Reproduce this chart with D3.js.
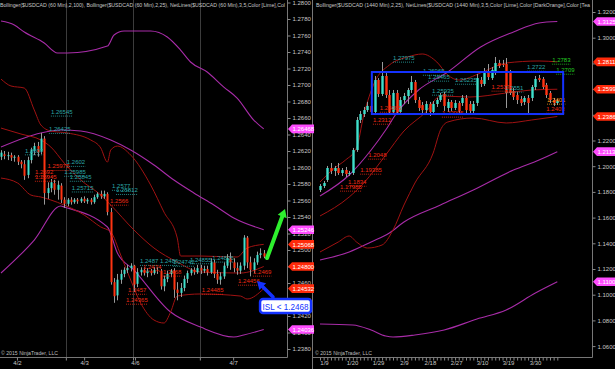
<!DOCTYPE html>
<html><head><meta charset="utf-8">
<script src="https://cdn.jsdelivr.net/npm/d3@7"></script>
<style>html,body{margin:0;padding:0;background:#000;overflow:hidden}text{font-family:"Liberation Sans",Arial,sans-serif}</style>
</head><body>
<svg id="c" width="615" height="369"></svg>
<script>
// ---------- LEFT PANEL (60 min) ----------
const leftOpen = [1.2613,1.2616,1.2614,1.2615,1.2612,1.2613,1.2607,1.2604,1.2591,1.2609,1.2620,1.2626,1.2619,1.2635,1.2569,1.2575,1.2581,1.2573,1.2578,1.2561,1.2556,1.2561,1.2558,1.2561,1.2559,1.2562,1.2559,1.2561,1.2558,1.2564,1.2568,1.2565,1.2568,1.2546,1.2461,1.2445,1.2464,1.2471,1.2476,1.2478,1.2481,1.2459,1.2473,1.2476,1.2472,1.2475,1.2472,1.2476,1.2475,1.2456,1.2465,1.2471,1.2475,1.2452,1.2448,1.2454,1.2465,1.2472,1.2476,1.2473,1.2478,1.2475,1.2477,1.2473,1.2485,1.2471,1.2464,1.2468,1.2481,1.2490,1.2485,1.2478,1.2475,1.2481,1.2515,1.2485,1.2476,1.2485,1.2494,1.2496];
const leftClose = [1.2618,1.2614,1.2615,1.2612,1.2613,1.2607,1.2604,1.2590,1.2609,1.2621,1.2626,1.2618,1.2635,1.2569,1.2575,1.2582,1.2573,1.2579,1.2561,1.2556,1.2561,1.2558,1.2561,1.2559,1.2562,1.2559,1.2561,1.2558,1.2564,1.2568,1.2565,1.2568,1.2546,1.2461,1.2444,1.2464,1.2471,1.2476,1.2478,1.2481,1.2458,1.2473,1.2476,1.2472,1.2475,1.2472,1.2476,1.2475,1.2456,1.2465,1.2471,1.2475,1.2452,1.2448,1.2454,1.2465,1.2472,1.2476,1.2473,1.2478,1.2475,1.2477,1.2473,1.2485,1.2471,1.2464,1.2468,1.2481,1.2490,1.2485,1.2478,1.2475,1.2481,1.2515,1.2485,1.2476,1.2485,1.2494,1.2496,1.2492];
const leftHigh = [1.2621,1.2620,1.2619,1.2618,1.2615,1.2615,1.2609,1.2609,1.2613,1.2624,1.2630,1.2631,1.2642,1.2638,1.2582,1.2586,1.2585,1.2584,1.2581,1.2564,1.2563,1.2564,1.2563,1.2563,1.2564,1.2565,1.2563,1.2563,1.2567,1.2570,1.2572,1.2572,1.2570,1.2551,1.2466,1.2471,1.2476,1.2479,1.2482,1.2484,1.2482,1.2478,1.2479,1.2479,1.2478,1.2477,1.2479,1.2479,1.2477,1.2469,1.2475,1.2477,1.2478,1.2461,1.2460,1.2469,1.2475,1.2478,1.2479,1.2482,1.2482,1.2481,1.2481,1.2490,1.2488,1.2476,1.2473,1.2485,1.2495,1.2497,1.2490,1.2485,1.2485,1.2518,1.2517,1.2492,1.2490,1.2498,1.2502,1.2500];
const leftLow = [1.2609,1.2610,1.2609,1.2608,1.2607,1.2603,1.2599,1.2585,1.2587,1.2605,1.2615,1.2613,1.2616,1.2555,1.2562,1.2570,1.2567,1.2561,1.2557,1.2551,1.2553,1.2555,1.2556,1.2556,1.2557,1.2557,1.2556,1.2555,1.2556,1.2562,1.2562,1.2562,1.2542,1.2458,1.2436,1.2439,1.2459,1.2467,1.2472,1.2474,1.2449,1.2455,1.2469,1.2469,1.2467,1.2469,1.2470,1.2471,1.2452,1.2450,1.2461,1.2467,1.2442,1.2439,1.2443,1.2450,1.2460,1.2469,1.2470,1.2471,1.2471,1.2472,1.2469,1.2471,1.2466,1.2459,1.2458,1.2465,1.2478,1.2476,1.2473,1.2470,1.2471,1.2476,1.2478,1.2468,1.2472,1.2482,1.2490,1.2490];

// Bollinger(2,100) - magenta  [barIndex, price]
const leftBB100Upper = [[0,1.27775],[4,1.27727],[7,1.27642],[13,1.27509],[17,1.27388],[20,1.27388],[32,1.27472],[34,1.27606],[37,1.27654],[45,1.27654],[50,1.27582],[54,1.27424],[57,1.27279],[62,1.27157],[67,1.26975],[71,1.26842],[76,1.26575],[79,1.26468]];
const leftBB100Mid = [[0,1.26248],[12,1.26418],[18,1.26454],[24,1.26442],[33,1.26333],[39,1.26212],[46,1.2603],[52,1.25848],[58,1.25691],[64,1.25545],[70,1.25388],[79,1.25246]];
const leftBB100Lower = [[0,1.24721],[10,1.25121],[18,1.25533],[19,1.25521],[32,1.25279],[35,1.24963],[40,1.24757],[51,1.24248],[60,1.24066],[70,1.23945],[73,1.2397],[79,1.24036]];
// Bollinger(2,25) - dark red
const leftBB25Upper = [[0,1.27072],[3,1.26988],[7,1.26963],[10,1.26697],[12,1.26515],[15,1.26442],[20,1.26418],[27,1.26333],[30,1.26236],[32,1.26066],[33,1.26212],[35,1.2626],[39,1.26151],[45,1.25788],[49,1.2546],[53,1.25145],[54,1.24927],[60,1.24927],[71,1.24915],[74,1.25024],[79,1.25068]];
const leftBB25Mid = [[0,1.26478],[6,1.26406],[12,1.26333],[15,1.26248],[19,1.26054],[24,1.25848],[30,1.25666],[33,1.25545],[40,1.25242],[46,1.25024],[53,1.24854],[60,1.24733],[72,1.24721],[79,1.248]];
const leftBB25Lower = [[0,1.25872],[5,1.25812],[9,1.25666],[12,1.25642],[15,1.25606],[19,1.25545],[25,1.25424],[30,1.25279],[33,1.25218],[36,1.24939],[39,1.24636],[42,1.24357],[46,1.24151],[49,1.24115],[51,1.24248],[53,1.24442],[60,1.24467],[72,1.24442],[74,1.24406],[79,1.24532]];

const leftYTicks = d3.range(0,22).map(k => +(1.28 - k*0.002).toFixed(4));
const leftDateLabels = ["4/2","4/3","4/6","4/7"];
const leftDateIdx = [4.8, 25, 40.3, 69.8];
const leftGridIdx = [19.5, 39.7, 59.8];
const leftMagentaTags = [1.26468, 1.25246, 1.24036];
const leftRedTags = [1.25068, 1.24800, 1.24532];
const leftTealLabels = [["1.26545",15,1.2665],["1.26425",14.4,1.2644],["1.2607",7.2,1.2618],["1.2602",19.8,1.2604],["1.25985",19,1.2592],["1.25845",20.7,1.2586],["1.25715",21.3,1.2573],["1.2577",33.4,1.2575],["1.25812",34.6,1.2570],["1.2487",41.8,1.2484],["1.2486",47.8,1.2484],["1.24742",51.7,1.2483],["1.24855",56.8,1.2486],["1.24826",63.5,1.2488]];
const leftRedLabels = [["1.25975",14,1.2599],["1.2592",10.2,1.2592],["1.25945",10.2,1.2586],["1.2566",32.8,1.2557],["1.2474",42.7,1.2477],["1.2468",48.7,1.2471],["1.2469",75.8,1.2471],["1.24456",71.3,1.2460],["1.24485",60.4,1.2449],["1.2457",38.2,1.2449],["1.24365",37.6,1.2437]];
const greenArrow = [[80,1.24903],[85.4,1.25497]];
const blueArrow = [[81.8,1.2443],[77,1.24624]];
const islAnchor = [77.9, 1.24406];
const islText = "ISL < 1.2468";

// ---------- RIGHT PANEL (1440 min) ----------
const rightOpen = [1.1815,1.1846,1.1893,1.1986,1.1963,1.1986,1.1947,1.1970,1.1939,1.1947,1.2126,1.2360,1.2406,1.2437,1.2469,1.2422,1.2671,1.2562,1.2702,1.2554,1.2422,1.2570,1.2422,1.2515,1.2546,1.2593,1.2655,1.2515,1.2476,1.2437,1.2484,1.2422,1.2484,1.2515,1.2562,1.2453,1.2500,1.2453,1.2492,1.2492,1.2531,1.2484,1.2430,1.2492,1.2671,1.2640,1.2733,1.2686,1.2733,1.2803,1.2795,1.2795,1.2725,1.2585,1.2554,1.2523,1.2500,1.2531,1.2531,1.2616,1.2686,1.2679,1.2632,1.2570,1.2515,1.2492];
const rightClose = [1.1846,1.1869,1.1986,1.1963,1.1986,1.1947,1.1970,1.1939,1.1947,1.2126,1.2360,1.2406,1.2437,1.2469,1.2422,1.2671,1.2562,1.2702,1.2554,1.2422,1.2570,1.2422,1.2515,1.2546,1.2593,1.2655,1.2515,1.2453,1.2437,1.2484,1.2422,1.2484,1.2515,1.2554,1.2469,1.2500,1.2453,1.2492,1.2430,1.2531,1.2437,1.2430,1.2484,1.2686,1.2640,1.2733,1.2694,1.2749,1.2803,1.2780,1.2788,1.2570,1.2570,1.2539,1.2515,1.2492,1.2531,1.2492,1.2616,1.2679,1.2671,1.2616,1.2554,1.2515,1.2492,1.2507];
const rightHigh = [1.1861,1.1885,1.2002,1.2025,1.2002,1.2025,1.1986,1.1994,1.1963,1.2142,1.2383,1.2430,1.2461,1.2500,1.2492,1.2702,1.2686,1.2811,1.2725,1.2593,1.2593,1.2593,1.2539,1.2570,1.2609,1.2702,1.2671,1.2539,1.2500,1.2507,1.2500,1.2507,1.2531,1.2570,1.2578,1.2523,1.2515,1.2515,1.2507,1.2554,1.2554,1.2507,1.2507,1.2718,1.2694,1.2764,1.2795,1.2772,1.2850,1.2827,1.2827,1.2842,1.2749,1.2609,1.2578,1.2546,1.2546,1.2554,1.2632,1.2702,1.2710,1.2694,1.2648,1.2585,1.2531,1.2523];
const rightLow = [1.1799,1.1830,1.1877,1.1939,1.1924,1.1932,1.1924,1.1916,1.1924,1.1932,1.2111,1.2336,1.2383,1.2422,1.2399,1.2399,1.2539,1.2546,1.2531,1.2399,1.2406,1.2406,1.2399,1.2484,1.2484,1.2570,1.2492,1.2430,1.2414,1.2414,1.2391,1.2399,1.2461,1.2500,1.2430,1.2422,1.2430,1.2437,1.2406,1.2469,1.2414,1.2406,1.2414,1.2469,1.2616,1.2624,1.2671,1.2671,1.2710,1.2764,1.2772,1.2453,1.2554,1.2515,1.2484,1.2469,1.2476,1.2414,1.2507,1.2593,1.2655,1.2601,1.2531,1.2492,1.2469,1.2476];

const rightBBMagUpper = [[0,1.17682],[8,1.19315],[14,1.21261],[18,1.22817],[21,1.24141],[27,1.2593],[35,1.27331],[44,1.29276],[53,1.30444],[60,1.31144],[65,1.31257]];
const rightBBMagMid = [[0,1.12701],[8,1.13323],[14,1.14101],[19,1.14801],[23,1.15657],[33,1.1698],[42,1.18148],[53,1.19704],[60,1.20483],[65,1.21131]];
const rightBBMagLower = [[0,1.0772],[9,1.07642],[14,1.07253],[18,1.06786],[20,1.06708],[26,1.06864],[34,1.07253],[43,1.08109],[51,1.08809],[59,1.10132],[65,1.11006]];
const rightBB25Upper = [[0,1.18771],[4,1.1986],[7,1.20483],[10,1.21417],[12,1.23985],[15,1.26553],[19,1.27875],[24,1.28498],[28,1.28732],[32,1.28109],[35,1.27098],[38,1.26708],[44,1.27253],[49,1.27875],[51,1.28031],[60,1.28187],[65,1.28117]];
const rightBB25Mid = [[0,1.16125],[8,1.17604],[12,1.18692],[18,1.20872],[23,1.2274],[29,1.24218],[33,1.25463],[41,1.25385],[51,1.25697],[58,1.2593],[65,1.2599]];
const rightBB25Lower = [[0,1.13323],[5,1.14101],[8,1.14568],[10,1.14101],[13,1.13634],[17,1.13868],[20,1.15035],[23,1.1698],[26,1.18692],[31,1.21028],[33,1.22817],[35,1.2344],[42,1.23751],[51,1.23362],[58,1.23596],[65,1.23868]];

const rightYTicks = d3.range(0,14).map(k => +(1.32 - k*0.02).toFixed(4));
const rightDateLabels = ["1/9","1/20","1/29","2/9","2/18","2/27","3/10","3/19","3/30"];
const rightDateIdx = [1.1, 8.8, 15.9, 23, 30.1, 37.3, 44.4, 51.5, 58.9];
const rightMagentaTags = [1.31257, 1.21131, 1.11006];
const rightRedTags = [1.28117, 1.25990, 1.23868];
const rightTealLabels = [["1.27975",20,1.2827],["1.26965",28.2,1.2725],["1.26465",29.6,1.2679],["1.26235",37,1.2655],["1.25935",30.7,1.2570],["1.2551",50.7,1.2593],["1.2722",56.7,1.2756]];
const rightRedLabels = [["1.2517",47,1.2601],["1.24085",16.4,1.2437],["1.23995",33.4,1.2399],["1.2403",62,1.2430],["1.2312",14.5,1.2344],["1.2048",13.2,1.2072],["1.19385",11,1.1955],["1.1834",7.7,1.1861],["1.17985",5.5,1.1823]];
const rightOrangeLabels = [["1.2401",62.2,1.2500]];
const rightGreenLabels = [["1.2783",63.6,1.2811],["1.2709",64.7,1.2733]];
const rightBoxIdx = [14.2, 66.6];
const rightBoxPrice = [1.2733, 1.2406];

const leftTitle = "Bollinger($USDCAD (60 Min),2,100), Bollinger($USDCAD (60 Min),2,25), NetLines($USDCAD (60 Min),3,5,Color [Lime],Col";
const rightTitle = "Bollinger($USDCAD (1440 Min),2,25), NetLines($USDCAD (1440 Min),3,5,Color [Lime],Color [DarkOrange],Color [Tea";
const copyright = "\u00a9 2015 NinjaTrader, LLC";

// ---------- DRAW ----------
const svg = d3.select("#c");
svg.append("rect").attr("width",615).attr("height",369).attr("fill","#000");
const defs = svg.append("defs");
defs.append("clipPath").attr("id","clipL").append("rect").attr("x",0).attr("y",0).attr("width",287).attr("height",357);
defs.append("clipPath").attr("id","clipR").append("rect").attr("x",313).attr("y",0).attr("width",279).attr("height",357);

const xL = d3.scaleLinear().domain([0,86]).range([1,287]);
const yL = d3.scaleLinear().domain([1.28,1.238]).range([2.5,349]);
const xR = d3.scaleLinear().domain([0,65]).range([320,557.3]);
const yR = d3.scaleLinear().domain([1.32,1.06]).range([12,346.1]);

const BULL="#3fe0cc", BEAR="#ff3412", WICK="#9a9a9a";
const MAG="#a82ca8", DRED="#a01212";
const TEAL="#2aa6a6", LRED="#ee2a14", GREEN="#22cc22", ORANGE="#ff9a1a";

function drawBands(g, xs, ys, list){
  list.forEach(([pts,color,w])=>{
    const line=d3.line().x(d=>xs(d[0])).y(d=>ys(d[1])).curve(d3.curveMonotoneX);
    g.append("path").attr("d",line(pts)).attr("fill","none").attr("stroke",color).attr("stroke-width",w);
  });
}
function drawCandles(g, xs, ys, O,Hh,Lo,C,bw){
  const data=O.map((o,i)=>({i,o,h:Hh[i],l:Lo[i],c:C[i]}));
  g.selectAll(null).data(data).join("line")
    .attr("x1",d=>Math.round(xs(d.i))+0.5).attr("x2",d=>Math.round(xs(d.i))+0.5)
    .attr("y1",d=>ys(d.h)).attr("y2",d=>ys(d.l)).attr("stroke",WICK).attr("stroke-width",1);
  g.selectAll(null).data(data).join("rect")
    .attr("x",d=>Math.round(xs(d.i))+0.5-bw/2).attr("width",bw)
    .attr("y",d=>Math.min(ys(d.o),ys(d.c)))
    .attr("height",d=>Math.max(1,Math.abs(ys(d.o)-ys(d.c))))
    .attr("fill",d=>d.c>=d.o?BULL:BEAR);
}
function netLabels(g, xs, ys, arr, color){
  arr.forEach(([t,i,p])=>{
    const x=xs(i), y=ys(p);
    const tx=g.append("text").attr("x",x).attr("y",y).text(t).attr("fill",color).attr("font-size",6);
    const w=tx.node().getComputedTextLength();
    g.append("line").attr("x1",x).attr("x2",x+w).attr("y1",y+2.2).attr("y2",y+2.2)
      .attr("stroke",color).attr("stroke-width",0.8).attr("stroke-dasharray","1,1");
  });
}
function yAxis(x, ys, ticks){
  const ax=svg.append("g").attr("transform",`translate(${x},0)`)
    .call(d3.axisRight(ys).tickValues(ticks).tickFormat(d3.format(".4f")).tickSize(3).tickPadding(2));
  ax.select(".domain").remove();
  ax.selectAll("line").attr("stroke","#888");
  ax.selectAll("text").attr("fill","#c8c8c8").attr("font-size",6);
}
function xAxis(xs, labels, idx, tickIdx){
  const g1=svg.append("g").attr("transform","translate(0,357.5)")
    .call(d3.axisBottom(xs).tickValues(tickIdx).tickFormat("").tickSize(3));
  g1.select(".domain").remove(); g1.selectAll("line").attr("stroke","#888");
  const g2=svg.append("g").attr("transform","translate(0,357.5)")
    .call(d3.axisBottom(xs).tickValues(idx).tickFormat((d,i)=>labels[i]).tickSize(0).tickPadding(3));
  g2.select(".domain").remove();
  g2.selectAll("text").attr("fill","#c8c8c8").attr("font-size",6);
}
function tag(x0, yv, text, fill){
  const h=4.3;
  svg.append("path").attr("d",`M${x0},${yv} L${x0+4},${yv-h} L${x0+26},${yv-h} L${x0+26},${yv+h} L${x0+4},${yv+h} Z`).attr("fill",fill);
  svg.append("text").attr("x",x0+4.5).attr("y",yv+2.2).text(text).attr("font-size",6).attr("fill","#fff");
}
function arrow(g, p0, p1, color, w, head){
  const ang=Math.atan2(p1[1]-p0[1],p1[0]-p0[0]);
  const bx=p1[0]-Math.cos(ang)*head, by=p1[1]-Math.sin(ang)*head;
  g.append("line").attr("x1",p0[0]).attr("y1",p0[1]).attr("x2",bx).attr("y2",by)
    .attr("stroke",color).attr("stroke-width",w).attr("stroke-linecap","round");
  const px=-Math.sin(ang)*head*0.6, py=Math.cos(ang)*head*0.6;
  g.append("path").attr("d",`M${p1[0]},${p1[1]} L${bx+px},${by+py} L${bx-px},${by-py} Z`).attr("fill",color);
}

// frames
svg.append("line").attr("x1",287.5).attr("x2",287.5).attr("y1",0).attr("y2",357.5).attr("stroke","#777");
svg.append("line").attr("x1",0).attr("x2",287.5).attr("y1",357.5).attr("y2",357.5).attr("stroke","#777");
svg.append("line").attr("x1",312.5).attr("x2",312.5).attr("y1",0).attr("y2",369).attr("stroke","#777");
svg.append("line").attr("x1",592.5).attr("x2",592.5).attr("y1",0).attr("y2",357.5).attr("stroke","#777");
svg.append("line").attr("x1",312.5).attr("x2",592.5).attr("y1",357.5).attr("y2",357.5).attr("stroke","#777");

// LEFT plot
const gL=svg.append("g").attr("clip-path","url(#clipL)");
leftGridIdx.forEach(i=>gL.append("line").attr("x1",Math.round(xL(i))+0.5).attr("x2",Math.round(xL(i))+0.5).attr("y1",0).attr("y2",357).attr("stroke","#3c3c3c"));
drawBands(gL,xL,yL,[[leftBB100Upper,MAG,1.1],[leftBB100Mid,MAG,1.1],[leftBB100Lower,MAG,1.1],[leftBB25Upper,DRED,1],[leftBB25Mid,DRED,1],[leftBB25Lower,DRED,1]]);
drawCandles(gL,xL,yL,leftOpen,leftHigh,leftLow,leftClose,2);
netLabels(gL,xL,yL,leftTealLabels,TEAL);
netLabels(gL,xL,yL,leftRedLabels,LRED);

// RIGHT plot
const gR=svg.append("g").attr("clip-path","url(#clipR)");
drawBands(gR,xR,yR,[[rightBBMagUpper,MAG,1.1],[rightBBMagMid,MAG,1.1],[rightBBMagLower,MAG,1.1],[rightBB25Upper,DRED,1],[rightBB25Mid,DRED,1],[rightBB25Lower,DRED,1]]);
drawCandles(gR,xR,yR,rightOpen,rightHigh,rightLow,rightClose,2.4);
netLabels(gR,xR,yR,rightTealLabels,TEAL);
netLabels(gR,xR,yR,rightRedLabels,LRED);
netLabels(gR,xR,yR,rightOrangeLabels,ORANGE);
netLabels(gR,xR,yR,rightGreenLabels,GREEN);
gR.append("rect").attr("x",xR(rightBoxIdx[0])).attr("y",yR(rightBoxPrice[0]))
  .attr("width",xR(rightBoxIdx[1])-xR(rightBoxIdx[0])).attr("height",yR(rightBoxPrice[1])-yR(rightBoxPrice[0]))
  .attr("fill","none").attr("stroke","#1432ff").attr("stroke-width",2);

// axes
yAxis(287.5,yL,leftYTicks);
yAxis(592.5,yR,rightYTicks);
xAxis(xL,leftDateLabels,leftDateIdx,leftDateIdx.concat(leftGridIdx));
xAxis(xR,rightDateLabels,rightDateIdx,d3.range(0,66));

// tags
leftMagentaTags.forEach(v=>tag(288,yL(v),v.toFixed(5),"#ff4cff"));
leftRedTags.forEach(v=>tag(288,yL(v),v.toFixed(5),"#ff2a0a"));
rightMagentaTags.forEach(v=>tag(593,yR(v),v.toFixed(5),"#ff4cff"));
rightRedTags.forEach(v=>tag(593,yR(v),v.toFixed(5),"#ff2a0a"));

// titles & copyright
svg.append("text").attr("x",0).attr("y",7).text(leftTitle).attr("font-size",6).attr("fill","#c8c8c8").attr("textLength",285).attr("lengthAdjust","spacingAndGlyphs");
svg.append("text").attr("x",316).attr("y",7).text(rightTitle).attr("font-size",6).attr("fill","#c8c8c8").attr("textLength",274).attr("lengthAdjust","spacingAndGlyphs");
svg.append("text").attr("x",1).attr("y",355).text(copyright).attr("font-size",6).attr("fill","#bdbdbd").attr("textLength",57).attr("lengthAdjust","spacingAndGlyphs");
svg.append("text").attr("x",315).attr("y",355).text(copyright).attr("font-size",6).attr("fill","#bdbdbd").attr("textLength",57).attr("lengthAdjust","spacingAndGlyphs");

// annotations
const gA=svg.append("g");
arrow(gA,[xL(greenArrow[0][0]),yL(greenArrow[0][1])],[xL(greenArrow[1][0]),yL(greenArrow[1][1])],"#2ef02e",4,8);
arrow(gA,[xL(blueArrow[0][0]),yL(blueArrow[0][1])],[xL(blueArrow[1][0]),yL(blueArrow[1][1])],"#1432ff",3.5,8);
const bx=xL(islAnchor[0]), by=yL(islAnchor[1]);
gA.append("rect").attr("x",bx).attr("y",by).attr("width",51).attr("height",14).attr("rx",3)
  .attr("fill","#fff").attr("stroke","#1432ff").attr("stroke-width",2.5);
gA.append("text").attr("x",bx+25.5).attr("y",by+10.5).attr("text-anchor","middle").text(islText)
  .attr("font-size",9.5).attr("fill","#1432ff").attr("textLength",46).attr("lengthAdjust","spacingAndGlyphs");
</script>
</body></html>
